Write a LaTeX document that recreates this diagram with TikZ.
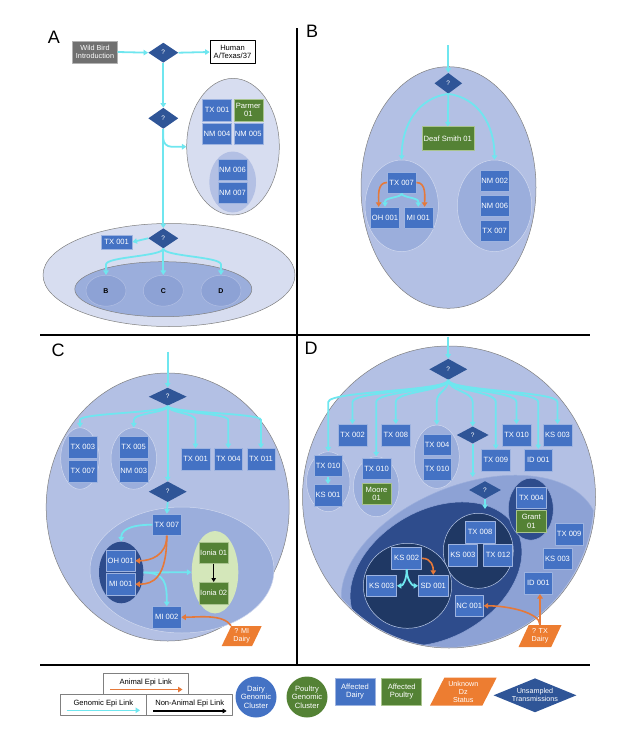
\documentclass[tikz,border=0pt]{standalone}
\usepackage{fontspec}
\setmainfont{Liberation Sans}
\usetikzlibrary{shapes.geometric,arrows.meta,calc}

\definecolor{dairyblue}{HTML}{4472C4}
\definecolor{boxedge}{HTML}{9DB3E0}
\definecolor{poultrygreen}{HTML}{548235}
\definecolor{greenedge}{HTML}{A9C48E}
\definecolor{diablue}{HTML}{2F5597}
\definecolor{gencyan}{HTML}{6FE6EF}
\definecolor{animorange}{HTML}{E5793A}
\definecolor{unkorange}{HTML}{ED7D31}
\definecolor{wildgray}{HTML}{707070}
\definecolor{paleclus}{HTML}{D7DDF0}
\definecolor{outerclus}{HTML}{B3C0E4}
\definecolor{innerclus}{HTML}{9BAEDC}
\definecolor{midclus}{HTML}{8DA2D5}
\definecolor{deepclus}{HTML}{2E4C8C}
\definecolor{navyclus}{HTML}{1F3864}
\definecolor{ioniaclus}{HTML}{D4E7BA}
\definecolor{clusedge}{HTML}{7F7F7F}

\tikzset{
  cluster/.style={ellipse, inner sep=0pt, draw=clusedge, line width=0.5pt},
  dairy/.style={rectangle, fill=dairyblue, draw=boxedge, line width=0.5pt, text=white,
    minimum width=29pt, minimum height=21.5pt, inner sep=0.8pt, align=center},
  poultry/.style={dairy, fill=poultrygreen, draw=greenedge},
  unsamp/.style={diamond, fill=diablue, text=white, inner sep=0pt,
    minimum width=30pt, minimum height=20pt, font=\fontsize{6.5}{7}\selectfont},
  unknown/.style={trapezium, trapezium left angle=62, trapezium right angle=118,
    trapezium stretches=true, fill=unkorange, text=white, inner sep=0pt, align=center},
  gen/.style={draw=gencyan, line width=1.8pt, -{Triangle[length=4.5pt,width=5.5pt]}},
  anim/.style={draw=animorange, line width=1.6pt, -{Triangle[length=4.5pt,width=5.5pt]}},
  nonanim/.style={draw=black, line width=1.2pt, -{Triangle[length=4pt,width=4.5pt]}},
  fan/.style={to path={.. controls ($(\tikztostart)+(0,#1)$) and ($(\tikztotarget |- \tikztostart)+(0,#1)$)
    .. ($(\tikztotarget |- \tikztostart)+(0,2*#1)$) -- (\tikztotarget)}},
  fan/.default=8,
  panel/.style={font=\fontsize{18}{18}\selectfont},
  divider/.style={line width=2pt},
  legbox/.style={rectangle, draw=gray, fill=white, line width=0.6pt, inner sep=0pt},
  letter/.style={cluster, fill=midclus, draw=outerclus, minimum width=40pt, minimum height=31pt,
    font=\fontsize{7}{7}\selectfont\bfseries}
}

\begin{document}
\begin{tikzpicture}[x=1pt, y=-1pt, line join=round, font=\fontsize{7.6}{8.6}\selectfont]

  % Fix the page to the size of the figure
  \useasboundingbox (0,0) rectangle (640,739);

  % Draw the panel dividers
  \coordinate (div-top) at (297,28);
  \coordinate (div-bot) at (297,665);
  \coordinate (mid-left) at (40,335);
  \coordinate (mid-right) at (590,335);
  \coordinate (leg-left) at (40,665);
  \coordinate (leg-right) at (590,665);
  \draw[divider] (div-top) -- (div-bot);
  \draw[divider] (mid-left) -- (mid-right);
  \draw[divider] (leg-left) -- (leg-right);

  % Panel letters
  \node[panel] (labA) at (54,37) {A};
  \node[panel] (labB) at (312,31) {B};
  \node[panel] (labC) at (58,350) {C};
  \node[panel] (labD) at (311,348) {D};

  %% Panel A
  % Draw the clusters
  \node[cluster, fill=paleclus, minimum width=252pt, minimum height=103pt] (aBig) at (169,275) {};
  \node[cluster, fill=innerclus, draw=gray, minimum width=177pt, minimum height=55pt] (aBCD) at (163.3,289.2) {};
  \node[letter] (aB) at (106,290.7) {B};
  \node[letter] (aC) at (163.3,290.7) {C};
  \node[letter] (aD) at (221,290.7) {D};
  \node[cluster, fill=paleclus, minimum width=92.6pt, minimum height=136.6pt] (aNM) at (233,146.7) {};
  \node[cluster, fill=outerclus, draw=none, minimum width=46.6pt, minimum height=61pt] (aNMin) at (232.7,182) {};

  % Draw the farms and the unsampled steps
  \node[rectangle, fill=wildgray, draw=gray!60, text=white, align=center, inner sep=1pt,
    minimum width=45pt, minimum height=22.5pt, font=\fontsize{7.3}{8.4}\selectfont] (wild) at (95,52) {Wild Bird\\Introduction};
  \node[rectangle, fill=white, draw=black, line width=0.6pt, align=center, inner sep=1pt,
    minimum width=45pt, minimum height=22.5pt] (human) at (232.5,52) {Human\\A/Texas/37};
  \node[unsamp] (a1) at (163.3,52.7) {?};
  \node[unsamp, minimum height=21pt] (a2) at (163.3,118.3) {?};
  \node[unsamp] (a3) at (163.3,238.3) {?};
  \node[dairy] (aTX1) at (217,110) {TX 001};
  \node[poultry] (aParmer) at (248.3,110) {Parmer\\01};
  \node[dairy] (aNM4) at (217,133.5) {NM 004};
  \node[dairy] (aNM5) at (248.3,133.5) {NM 005};
  \node[dairy] (aNM6) at (232.5,169.5) {NM 006};
  \node[dairy] (aNM7) at (232.5,192.5) {NM 007};
  \node[dairy, minimum width=31pt, minimum height=14.5pt] (aTX1b) at (116.7,242) {TX 001};

  % Draw the links
  \draw[gen] (wild.east) -- (a1.west);
  \draw[gen] (a1.east) -- (human.west);
  \draw[gen] (a1.south) -- (a2.north);
  \draw[gen] (a2.south) -- (a3.north);
  \draw[gen, rounded corners=8pt] (a2.south) |- (aNM.west);
  \draw[gen] (a3.west) -- (aTX1b.east);
  \draw[gen] (a3.south) to[fan] (aB.north);
  \draw[gen] (a3.south) -- (aC.north);
  \draw[gen] (a3.south) to[fan] (aD.north);

  %% Panel B
  \coordinate (bIn) at (448.3,45);
  \node[cluster, fill=outerclus, minimum width=175pt, minimum height=241.6pt] (bOut) at (448.5,187.5) {};
  \node[cluster, fill=innerclus, draw=outerclus!60!white, minimum width=73.4pt, minimum height=91.6pt] (bL) at (401.7,205.8) {};
  \node[cluster, fill=innerclus, draw=outerclus!60!white, minimum width=74.4pt, minimum height=91.6pt] (bR) at (494.5,205.8) {};
  \node[unsamp, minimum width=27.7pt, minimum height=20.7pt] (bQ) at (448.3,83.3) {?};
  \node[poultry, minimum width=52pt, minimum height=24pt] (bDS) at (447.8,138.7) {Deaf Smith 01};
  \node[dairy] (bTX7) at (401.7,182.5) {TX 007};
  \node[dairy] (bOH) at (385,217.8) {OH 001};
  \node[dairy] (bMI) at (418.3,217.8) {MI 001};
  \node[dairy] (bNM2) at (494.7,180.8) {NM 002};
  \node[dairy] (bNM6) at (494.7,205.8) {NM 006};
  \node[dairy] (bTX7r) at (494.7,230.8) {TX 007};

  \draw[gen] (bIn) -- (bQ.north);
  \draw[gen] (bQ.south) -- (bDS.north);
  \draw[gen] (bQ.south) .. controls +(-30,4) and +(0,-35) .. (bL.north);
  \draw[gen] (bQ.south) .. controls +(30,4) and +(0,-35) .. (bR.north);
  \draw[gen] (bTX7.south) to[fan=4] (bOH.north);
  \draw[gen] (bTX7.south) to[fan=4] (bMI.north);
  \draw[anim] (bTX7.west) .. controls +(-10,0) and +(0,-10) .. (bOH.120);
  \draw[anim] (bTX7.east) .. controls +(10,0) and +(0,-10) .. (bMI.60);

  %% Panel C
  \coordinate (cIn) at (167.7,351.7);
  \node[cluster, fill=outerclus, minimum width=243pt, minimum height=268pt] (cOut) at (167.7,507) {};
  \node[cluster, fill=innerclus, draw=outerclus!60!white, minimum width=38.6pt, minimum height=61.6pt] (cE1) at (80,458.5) {};
  \node[cluster, fill=innerclus, draw=outerclus!60!white, minimum width=45.6pt, minimum height=61.6pt] (cE2) at (133.8,458.5) {};
  \node[cluster, fill=innerclus, draw=outerclus!60!white, minimum width=184pt, minimum height=126pt] (cMid) at (182,570) {};
  \node[cluster, fill=deepclus, draw=none, minimum width=44.4pt, minimum height=61.6pt] (cDark) at (121.2,572.5) {};
  \node[cluster, fill=ioniaclus, draw=none, minimum width=46.6pt, minimum height=82.4pt] (cIonia) at (215,572.2) {};

  \node[unsamp, minimum width=38pt, minimum height=18pt] (cQ1) at (167.7,396.7) {?};
  \node[unsamp, minimum width=38pt, minimum height=20.5pt] (cQ2) at (167.7,491.7) {?};
  \node[dairy, minimum width=28.5pt] (cTX3) at (82.8,447.2) {TX 003};
  \node[dairy, minimum width=28.5pt] (cTX7a) at (82.8,471.3) {TX 007};
  \node[dairy, minimum width=28.5pt] (cTX5) at (133.7,447.2) {TX 005};
  \node[dairy, minimum width=28.5pt] (cNM3) at (133.7,471.3) {NM 003};
  \node[dairy, minimum width=28.5pt] (cTX1) at (195.5,459.2) {TX 001};
  \node[dairy, minimum width=28.5pt] (cTX4) at (228.3,459.2) {TX 004};
  \node[dairy, minimum width=28.5pt] (cTX11) at (261,459.2) {TX 011};
  \node[dairy, minimum width=28.5pt] (cTX7) at (166.8,524.7) {TX 007};
  \node[dairy, minimum width=28.5pt] (cOH) at (120.8,560.8) {OH 001};
  \node[dairy, minimum width=28.5pt] (cMI1) at (120.8,584.2) {MI 001};
  \node[poultry] (cIo1) at (213.7,552.5) {Ionia 01};
  \node[poultry] (cIo2) at (213.7,593) {Ionia 02};
  \node[dairy, minimum width=28.5pt] (cMI2) at (166.8,617.2) {MI 002};
  \node[unknown, minimum width=40pt, minimum height=20pt, font=\fontsize{7.2}{8}\selectfont] (cUnk) at (241.7,636) {? MI\\Dairy};

  \draw[gen] (cIn) -- (cQ1.north);
  \draw[gen] (cQ1.south) to[fan=7] (cE1.north);
  \draw[gen] (cQ1.south) to[fan=7] (cE2.north);
  \draw[gen] (cQ1.south) -- (cQ2.north);
  \draw[gen] (cQ1.south) to[fan=7] (cTX1.north);
  \draw[gen] (cQ1.south) to[fan=7] (cTX4.north);
  \draw[gen] (cQ1.south) to[fan=7] (cTX11.north);
  \draw[gen] (cQ2.south) -- (cTX7.north);
  \draw[gen] (cTX7.west) .. controls +(-25,0) and +(0,-10) .. (cDark.north);
  \draw[gen] (cDark.east) -- (cIonia.west);
  \draw[gen] (cDark.east) .. controls +(22,0) and +(0,-22) .. (cMI2.north);
  \draw[anim] (cTX7.south) .. controls +(0,20) and +(15,0) .. (cOH.east);
  \draw[anim] (cTX7.south) .. controls +(0,42) and +(18,0) .. (cMI1.east);
  \draw[nonanim] (cIo1.south) -- (cIo2.north);
  \draw[anim] (cUnk.top left corner) .. controls +(-8,-12) and +(18,0) .. (cMI2.east);

  %% Panel D
  \coordinate (dIn) at (448.3,336.5);
  \coordinate (dL2top) at (472.7,477);
  \coordinate (dL3top) at (485,509);
  \node[cluster, fill=outerclus, minimum width=293pt, minimum height=302pt] (dOut) at (449,497) {};
  \begin{scope}
    \clip (449,497) ellipse [x radius=145, y radius=150];
    \node[cluster, fill=midclus, draw=innerclus, rotate=22, minimum width=270pt, minimum height=160pt] (dL2) at (470,565) {};
    \node[cluster, fill=deepclus, draw=midclus, rotate=30, minimum width=184pt, minimum height=128pt] (dL3) at (436,574) {};
  \end{scope}
  \node[cluster, fill=innerclus, draw=outerclus!60!white, minimum width=43.4pt, minimum height=60pt] (dE1) at (328.3,481.7) {};
  \node[cluster, fill=innerclus, draw=outerclus!60!white, minimum width=45.6pt, minimum height=60pt] (dE2) at (376.2,486.7) {};
  \node[cluster, fill=innerclus, draw=outerclus!60!white, minimum width=45pt, minimum height=63.4pt] (dE3) at (436.8,456.7) {};
  \node[cluster, fill=deepclus, draw=midclus, minimum width=45pt, minimum height=62pt] (dE4) at (530.8,509.2) {};
  \node[cluster, fill=navyclus, draw=boxedge!70!white, minimum width=70pt, minimum height=75pt] (dC1) at (478.3,550.8) {};
  \node[cluster, fill=navyclus, draw=boxedge!70!white, minimum width=88.4pt, minimum height=85pt] (dC2) at (407.5,585.8) {};

  \node[unsamp, minimum width=38pt, minimum height=21pt] (dQ1) at (448.3,369.3) {?};
  \node[unsamp, minimum width=32pt, minimum height=17pt] (dQ2) at (472.7,435) {?};
  \node[unsamp, minimum width=32pt, minimum height=17.7pt] (dQ3) at (485,490) {?};
  \node[dairy, minimum width=28.5pt] (dTX10a) at (328,465.8) {TX 010};
  \node[dairy, minimum width=28.5pt] (dKS1) at (328,495) {KS 001};
  \node[dairy, minimum width=28.5pt] (dTX10b) at (376.5,468.5) {TX 010};
  \node[poultry, minimum width=28.5pt] (dMoore) at (376.5,493.8) {Moore\\01};
  \node[dairy, minimum width=28.5pt] (dTX2) at (352.5,435) {TX 002};
  \node[dairy, minimum width=28.5pt] (dTX8) at (395.8,435) {TX 008};
  \node[dairy, minimum width=28.5pt] (dTX4) at (437,444.7) {TX 004};
  \node[dairy, minimum width=28.5pt] (dTX10c) at (437,469.2) {TX 010};
  \node[dairy, minimum width=28.5pt] (dTX9) at (495.8,460) {TX 009};
  \node[dairy, minimum width=28.5pt] (dTX10d) at (516.5,435) {TX 010};
  \node[dairy, minimum width=28.5pt] (dID1) at (538.3,460) {ID 001};
  \node[dairy, minimum width=28.5pt] (dKS3) at (557.5,435) {KS 003};
  \node[dairy, minimum width=29.5pt] (dTX4b) at (531.3,497.5) {TX 004};
  \node[poultry, minimum width=29.5pt] (dGrant) at (531.3,521.2) {Grant\\01};
  \node[dairy, minimum width=28.5pt] (dTX9b) at (569.2,534.2) {TX 009};
  \node[dairy, minimum width=28.5pt] (dKS3b) at (557.5,558.8) {KS 003};
  \node[dairy, minimum width=28.5pt] (dID1b) at (538.3,583) {ID 001};
  \node[dairy, minimum width=30pt] (dTX8b) at (480,532.2) {TX 008};
  \node[dairy, minimum width=29pt] (dKS3c) at (462.8,555.3) {KS 003};
  \node[dairy, minimum width=29pt] (dTX12) at (498,555.3) {TX 012};
  \node[dairy, minimum width=30pt] (dKS2) at (406.7,558.3) {KS 002};
  \node[dairy, minimum width=30pt] (dKS3d) at (381.7,585.8) {KS 003};
  \node[dairy, minimum width=30pt] (dSD1) at (433.3,585.8) {SD 001};
  \node[dairy, minimum width=28.5pt] (dNC1) at (469.2,605.8) {NC 001};
  \node[unknown, minimum width=43pt, minimum height=22pt, font=\fontsize{7.2}{8}\selectfont] (dUnk) at (540,636) {? TX\\Dairy};

  \draw[gen] (dIn) -- (dQ1.north);
  \draw[gen] (dQ1.south) to[fan=11] (dE1.north);
  \draw[gen] (dQ1.south) to[fan=11] (dE2.north);
  \draw[gen] (dQ1.south) to[fan=11] (dTX2.north);
  \draw[gen] (dQ1.south) to[fan=11] (dTX8.north);
  \draw[gen] (dQ1.south) to[fan=11] (dE3.north);
  \draw[gen] (dQ1.south) to[fan=11] (dQ2.north);
  \draw[gen] (dQ1.south) to[fan=11] (dTX9.north);
  \draw[gen] (dQ1.south) to[fan=11] (dTX10d.north);
  \draw[gen] (dQ1.south) to[fan=11] (dID1.north);
  \draw[gen] (dQ1.south) to[fan=11] (dKS3.north);
  \draw[gen] (dTX10a.south) -- (dKS1.north);
  \draw[gen] (dQ2.south) -- (dL2top);
  \draw[gen] (dQ3.south) -- (dL3top);
  \draw[gen] (dKS2.south) .. controls +(0,10) and +(6,0) .. (dKS3d.east);
  \draw[gen] (dKS2.south) .. controls +(0,10) and +(-6,0) .. (dSD1.west);
  \draw[anim] (dKS2.east) .. controls +(10,0) and +(0,-8) .. (dSD1.north);
  \draw[anim] (dUnk.north) -- (dUnk.north |- dID1b.south);
  \draw[anim] (dUnk.north) .. controls +(0,-12) and +(25,0) .. (dNC1.east);

  %% Legend
  \node[legbox, minimum width=85pt, minimum height=21pt] (lAnim) at (145.8,683.8) {};
  \node (lAnimTxt) at (145.8,682.5) {Animal Epi Link};
  \node[legbox, minimum width=86.7pt, minimum height=20.7pt] (lGen) at (103.3,704.7) {};
  \node (lGenTxt) at (103.3,703.2) {Genomic Epi Link};
  \node[legbox, minimum width=86pt, minimum height=20.7pt] (lNon) at (189.7,704.7) {};
  \node (lNonTxt) at (189.7,703.2) {Non-Animal Epi Link};
  \coordinate (lAnimA) at (110,689.5);
  \coordinate (lAnimB) at (182.5,689.5);
  \coordinate (lGenA) at (66.7,710.3);
  \coordinate (lGenB) at (140,710.3);
  \coordinate (lNonA) at (153.3,711);
  \coordinate (lNonB) at (226.7,711);
  \draw[anim, line width=1.1pt] (lAnimA) -- (lAnimB);
  \draw[gen, line width=1.1pt] (lGenA) -- (lGenB);
  \draw[nonanim] (lNonA) -- (lNonB);

  \node[circle, fill=dairyblue, text=white, minimum size=41pt, inner sep=0pt, align=center] (lDairy) at (256,697) {Dairy\\Genomic\\Cluster};
  \node[circle, fill=poultrygreen, text=white, minimum size=41pt, inner sep=0pt, align=center] (lPoultry) at (307,697) {Poultry\\Genomic\\Cluster};
  \node[dairy, minimum width=40pt, minimum height=27pt] (lAffD) at (355,691.5) {Affected\\Dairy};
  \node[poultry, minimum width=40pt, minimum height=27pt] (lAffP) at (401.7,691.5) {Affected\\Poultry};
  \node[unknown, minimum width=67pt, minimum height=28pt, font=\fontsize{7.2}{8}\selectfont] (lUnk) at (463.3,691.7) {Unknown\\Dz\\Status};
  \node[unsamp, aspect=2.6, minimum width=83pt, minimum height=34pt, align=center,
    font=\fontsize{7.2}{8}\selectfont] (lUns) at (535,695.3) {Unsampled\\Transmissions};

\end{tikzpicture}
\end{document}
